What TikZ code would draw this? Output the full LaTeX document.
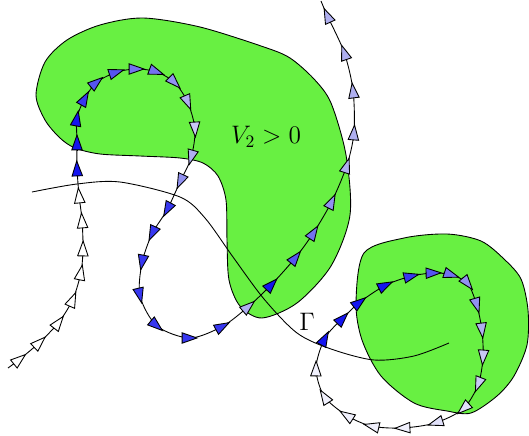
\documentclass[tikz,border=0pt]{standalone}
\usetikzlibrary{arrows.meta,calc}
\definecolor{regiongreen}{RGB}{104,240,66}
\definecolor{tA}{RGB}{20,20,240}
\definecolor{tB}{RGB}{55,55,240}
\definecolor{tC}{RGB}{85,85,240}
\definecolor{tD}{RGB}{115,115,240}
\definecolor{tE}{RGB}{145,145,240}
\definecolor{tF}{RGB}{175,175,240}
\definecolor{tG}{RGB}{200,200,245}
\definecolor{tH}{RGB}{225,225,250}
\definecolor{tI}{RGB}{240,240,252}
\begin{document}
\begin{tikzpicture}[x=0.02cm,y=-0.02cm,line width=0.5pt,
  tip/.style={-{Triangle[length=9.5pt,width=6.5pt,fill=#1]}},
  biglabel/.style={font=\Large}]
\useasboundingbox (0,0) rectangle (529,436);
% regions with V_2 > 0
\draw[fill=regiongreen] plot[smooth cycle] coordinates {(36,95) (45,120) (60,138) (75,148) (100,154) (140,156) (180,158) (203,163) (218,176) (226,200) (227,240) (229,280) (240,306) (262,318) (297,303) (331,266) (350,215) (346,155) (331,103) (314,79) (290,58) (264,47) (200,27) (143,18) (100,25) (67,40) (45,62)};
\draw[fill=regiongreen] plot[smooth cycle] coordinates {(364,253) (404,238) (447,234) (481,241) (504,259) (521,279) (528,310) (527,345) (514,376) (497,396) (471,413) (447,411) (414,403) (381,376) (362,340) (356,303)};
% curve Gamma
\draw plot[smooth] coordinates {(32,192) (77,184) (120,182) (180,197) (205,218) (233,257) (264,299) (297,333) (331,349) (374,360) (414,356) (449,343)};
\node[biglabel] (vlabel) at (266,137) {$V_2>0$};
\node[biglabel] (glabel) at (307,322) {$\Gamma$};
% first trajectory
\def\pathA{}
\foreach \x/\y/\col [count=\i] in {8/368/white, 20/359/white, 40/342/white, 59/322/white, 73/299/white, 81/272/white, 83/248/white, 82/220/white, 79/195/white, 77/168/tA, 77/142/tA, 77/118/tA, 85/98/tB, 97/82/tC, 117/72/tC, 137/69/tD, 157/72/tD, 175/83/tE, 188/103/tF, 195/130/tG, 191/158/tF, 180/182/tE, 167/210/tB, 152/234/tB, 142/263/tB, 140/296/tB, 157/326/tB, 190/338/tB, 223/326/tB, 249/306/tF, 272/284/tA, 296/257/tC, 314/232/tD, 332/201/tE, 347/165/tF, 354/132/tF, 353/90/tF, 344/52/tF, 327/15/tF, 321/1/white}{
  \coordinate (a\i) at (\x,\y);
  \expandafter\xdef\csname ca\i\endcsname{\col}
  \xdef\pathA{\pathA (a\i)}
}
\edef\tmp{\noexpand\draw plot[smooth] coordinates {\pathA};}\tmp
\foreach \i in {2,...,39}{
  \pgfmathtruncatemacro\iprev{\i-1}
  \pgfmathtruncatemacro\inext{\i+1}
  \expandafter\let\expandafter\tipcol\csname ca\i\endcsname
  \draw[tip/.expanded=\tipcol] ($(a\i)!-4.75pt!($(a\i)+(a\inext)-(a\iprev)$)$) -- ($(a\i)!4.75pt!($(a\i)+(a\inext)-(a\iprev)$)$);
}
% second trajectory, closed
\def\pathB{}
\foreach \x/\y/\col [count=\i] in {325/338/tA, 343/318/tA, 360/302/tA, 386/285/tA, 412/276/tB, 434/273/tC, 452/275/tD, 468/284/tE, 477/306/tE, 482/331/tF, 483/358/tG, 478/385/tG, 463/409/tH, 435/423/tH, 402/428/tI, 371/426/tI, 346/415/tI, 324/396/tI, 316/368/tI}{
  \coordinate (b\i) at (\x,\y);
  \expandafter\xdef\csname cb\i\endcsname{\col}
  \xdef\pathB{\pathB (b\i)}
}
\edef\tmp{\noexpand\draw plot[smooth cycle] coordinates {\pathB};}\tmp
\foreach \i in {1,...,19}{
  \pgfmathtruncatemacro\iprev{mod(\i+17,19)+1}
  \pgfmathtruncatemacro\inext{mod(\i,19)+1}
  \expandafter\let\expandafter\tipcol\csname cb\i\endcsname
  \draw[tip/.expanded=\tipcol] ($(b\i)!-4.75pt!($(b\i)+(b\inext)-(b\iprev)$)$) -- ($(b\i)!4.75pt!($(b\i)+(b\inext)-(b\iprev)$)$);
}
\end{tikzpicture}
\end{document}
